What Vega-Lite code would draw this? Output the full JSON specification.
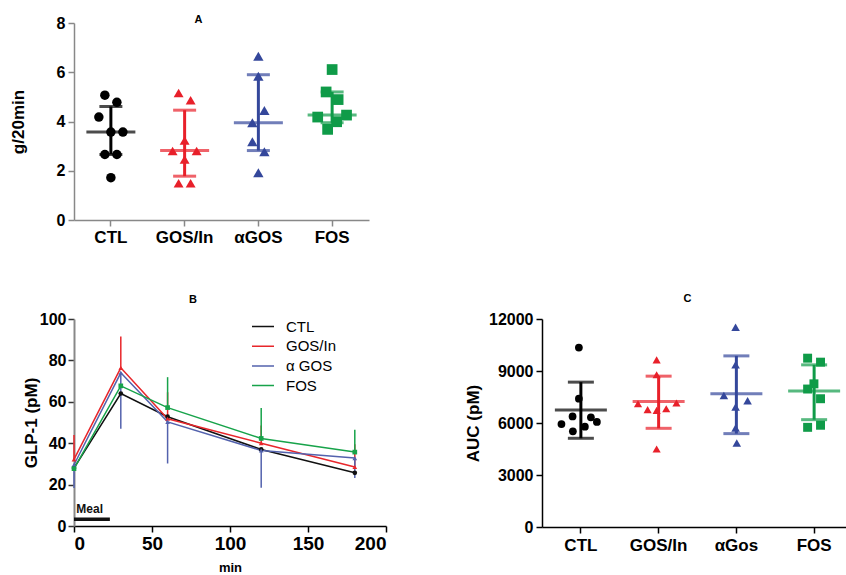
{
  "$schema": "https://vega.github.io/schema/vega-lite/v6.json",
  "padding": {"left": 9, "top": 14, "right": 0, "bottom": 0},
  "background": "white",
  "config": {
    "font": "Liberation Sans",
    "view": {"stroke": null},
    "axis": {"grid": false, "labelFontWeight": "bold", "titleFontWeight": "bold", "labelColor": "#000", "titleColor": "#000", "labelFont": "Liberation Sans", "titleFont": "Liberation Sans"},
    "title": {"font": "Liberation Sans", "fontWeight": "bold", "fontSize": 11, "color": "#000"}
  },
  "datasets": {
    "aPts": [
      {"group": "CTL", "slot": -1, "v": 5.07}, {"group": "CTL", "slot": 1, "v": 4.78}, {"group": "CTL", "slot": -2, "v": 4.18}, {"group": "CTL", "slot": 0, "v": 3.57}, {"group": "CTL", "slot": 2, "v": 3.57}, {"group": "CTL", "slot": -1, "v": 2.66}, {"group": "CTL", "slot": 1, "v": 2.66}, {"group": "CTL", "slot": 0, "v": 1.72},
      {"group": "GOS/In", "slot": -1, "v": 5.16}, {"group": "GOS/In", "slot": 1, "v": 4.86}, {"group": "GOS/In", "slot": 0, "v": 3.23}, {"group": "GOS/In", "slot": -2, "v": 2.8}, {"group": "GOS/In", "slot": 2, "v": 2.8}, {"group": "GOS/In", "slot": 0, "v": 2.46}, {"group": "GOS/In", "slot": -1, "v": 1.49}, {"group": "GOS/In", "slot": 1, "v": 1.49},
      {"group": "αGOS", "slot": 0, "v": 6.65}, {"group": "αGOS", "slot": 0, "v": 5.84}, {"group": "αGOS", "slot": 1, "v": 4.45}, {"group": "αGOS", "slot": -1, "v": 3.95}, {"group": "αGOS", "slot": -1, "v": 3.18}, {"group": "αGOS", "slot": 1, "v": 2.77}, {"group": "αGOS", "slot": 0, "v": 1.92},
      {"group": "FOS", "slot": 0, "v": 6.11}, {"group": "FOS", "slot": -1, "v": 5.2}, {"group": "FOS", "slot": 1, "v": 4.89}, {"group": "FOS", "slot": -2.4, "v": 4.18}, {"group": "FOS", "slot": 2.4, "v": 4.26}, {"group": "FOS", "slot": 0.75, "v": 3.99}, {"group": "FOS", "slot": -0.75, "v": 3.68}
    ],
    "aStats": [
      {"group": "CTL", "mid": 3.57, "lo": 2.66, "hi": 4.61},
      {"group": "GOS/In", "mid": 2.82, "lo": 1.78, "hi": 4.46},
      {"group": "αGOS", "mid": 3.95, "lo": 2.82, "hi": 5.9},
      {"group": "FOS", "mid": 4.26, "lo": 3.95, "hi": 5.2}
    ],
    "bMean": [
      {"series": "CTL", "t": 0, "v": 28}, {"series": "CTL", "t": 30, "v": 64}, {"series": "CTL", "t": 60, "v": 52.8}, {"series": "CTL", "t": 120, "v": 37}, {"series": "CTL", "t": 180, "v": 25.7},
      {"series": "GOS/In", "t": 0, "v": 32.2}, {"series": "GOS/In", "t": 30, "v": 76.4}, {"series": "GOS/In", "t": 60, "v": 51.8}, {"series": "GOS/In", "t": 120, "v": 40}, {"series": "GOS/In", "t": 180, "v": 28.5},
      {"series": "α GOS", "t": 0, "v": 29.6}, {"series": "α GOS", "t": 30, "v": 74}, {"series": "α GOS", "t": 60, "v": 50.3}, {"series": "α GOS", "t": 120, "v": 36.5}, {"series": "α GOS", "t": 180, "v": 32.8},
      {"series": "FOS", "t": 0, "v": 27.7}, {"series": "FOS", "t": 30, "v": 67.7}, {"series": "FOS", "t": 60, "v": 57.2}, {"series": "FOS", "t": 120, "v": 42.3}, {"series": "FOS", "t": 180, "v": 35.7}
    ],
    "bErr": [
      {"series": "GOS/In", "t": 0, "m": 32.2, "e": 44}, {"series": "GOS/In", "t": 30, "m": 76.4, "e": 91.5}, {"series": "GOS/In", "t": 60, "m": 51.8, "e": 64.6}, {"series": "GOS/In", "t": 120, "m": 40, "e": 48.5}, {"series": "GOS/In", "t": 180, "m": 28.5, "e": 39.5},
      {"series": "α GOS", "t": 0, "m": 29.6, "e": 18.3}, {"series": "α GOS", "t": 30, "m": 74, "e": 47}, {"series": "α GOS", "t": 60, "m": 50.3, "e": 30.2}, {"series": "α GOS", "t": 120, "m": 36.5, "e": 18.5}, {"series": "α GOS", "t": 180, "m": 32.8, "e": 23.2},
      {"series": "FOS", "t": 60, "m": 57.2, "e": 71.9}, {"series": "FOS", "t": 120, "m": 42.3, "e": 57}, {"series": "FOS", "t": 180, "m": 35.7, "e": 46.5}
    ],
    "meal": [{"start": 0, "end": 23, "level": 3.3, "label": "Meal", "labelAt": 1.5, "labelLevel": 8}],
    "cPts": [
      {"group": "CTL", "slot": 0, "v": 10350}, {"group": "CTL", "slot": 0, "v": 7400}, {"group": "CTL", "slot": -1.05, "v": 6380}, {"group": "CTL", "slot": 2, "v": 6330}, {"group": "CTL", "slot": -2.9, "v": 5940}, {"group": "CTL", "slot": 3, "v": 6060}, {"group": "CTL", "slot": 1, "v": 5790}, {"group": "CTL", "slot": -1, "v": 5520},
      {"group": "GOS/In", "slot": 0, "v": 9640}, {"group": "GOS/In", "slot": 0, "v": 8780}, {"group": "GOS/In", "slot": -3.1, "v": 7110}, {"group": "GOS/In", "slot": 3.3, "v": 7150}, {"group": "GOS/In", "slot": -1.5, "v": 6770}, {"group": "GOS/In", "slot": 0, "v": 6730}, {"group": "GOS/In", "slot": 1.6, "v": 6820}, {"group": "GOS/In", "slot": 0, "v": 4500},
      {"group": "αGos", "slot": 0.2, "v": 11520}, {"group": "αGos", "slot": 0.2, "v": 9360}, {"group": "αGos", "slot": -1.75, "v": 7590}, {"group": "αGos", "slot": 2.2, "v": 7280}, {"group": "αGos", "slot": 0.2, "v": 6920}, {"group": "αGos", "slot": 0.2, "v": 5710}, {"group": "αGos", "slot": 0.4, "v": 4850},
      {"group": "FOS", "slot": -0.75, "v": 9740}, {"group": "FOS", "slot": 1.4, "v": 9510}, {"group": "FOS", "slot": 0.3, "v": 8260}, {"group": "FOS", "slot": -0.75, "v": 7960}, {"group": "FOS", "slot": 1.4, "v": 7400}, {"group": "FOS", "slot": -0.75, "v": 5750}, {"group": "FOS", "slot": 1.4, "v": 5870}
    ],
    "cStats": [
      {"group": "CTL", "mid": 6748, "lo": 5118, "hi": 8358},
      {"group": "GOS/In", "mid": 7246, "lo": 5693, "hi": 8703},
      {"group": "αGos", "mid": 7687, "lo": 5387, "hi": 9872},
      {"group": "FOS", "mid": 7840, "lo": 6192, "hi": 9355}
    ]
  },
  "bounds": "flush",
  "spacing": 99,
  "resolve": {"scale": {"color": "independent", "shape": "independent", "size": "independent", "x": "independent", "y": "independent"}},
  "vconcat": [
    {
      "width": 295,
      "height": 197,
      "title": {"text": "A", "dx": -23, "dy": 17, "baseline": "alphabetic", "offset": -2},
      "encoding": {
        "x": {"field": "group", "type": "nominal", "scale": {"type": "band", "domain": ["CTL", "GOS/In", "αGOS", "FOS"], "paddingInner": 0, "paddingOuter": 0},
              "axis": {"title": null, "labelAngle": 0, "labelFontSize": 17, "labelPadding": 3, "tickSize": 6, "domainColor": "#888", "tickColor": "#888", "domainWidth": 1.5, "tickWidth": 1.5}},
        "color": {"field": "group", "type": "nominal", "scale": {"domain": ["CTL", "GOS/In", "αGOS", "FOS"], "range": ["#000000", "#e8202a", "#34479b", "#0f9b48"]}, "legend": null}
      },
      "layer": [
        {"data": {"name": "aStats"}, "mark": {"type": "rule", "strokeWidth": 3},
         "encoding": {"y": {"field": "lo", "type": "quantitative", "scale": {"domain": [0, 8], "nice": false},
                            "axis": {"values": [0, 2, 4, 6, 8], "title": "g/20min", "titleFontSize": 17, "titleX": -56, "titleBaseline": "middle", "labelFontSize": 16, "labelPadding": 3, "tickSize": 6, "domainColor": "#888", "tickColor": "#888", "domainWidth": 1.5, "tickWidth": 1.5}},
                      "y2": {"field": "hi"}}},
        {"data": {"name": "aStats"}, "mark": {"type": "tick", "orient": "horizontal", "size": 49, "thickness": 3},
         "encoding": {"y": {"field": "mid", "type": "quantitative"}}},
        {"data": {"name": "aStats"}, "mark": {"type": "tick", "orient": "horizontal", "size": 23, "thickness": 3},
         "encoding": {"y": {"field": "lo", "type": "quantitative"}}},
        {"data": {"name": "aStats"}, "mark": {"type": "tick", "orient": "horizontal", "size": 23, "thickness": 3},
         "encoding": {"y": {"field": "hi", "type": "quantitative"}}},
        {"data": {"name": "aPts"}, "mark": {"type": "point", "filled": true, "opacity": 1},
         "encoding": {
           "xOffset": {"field": "slot", "type": "quantitative", "scale": {"domain": [-4.92, 4.92]}},
           "y": {"field": "v", "type": "quantitative"},
           "shape": {"field": "group", "type": "nominal", "scale": {"domain": ["CTL", "GOS/In", "αGOS", "FOS"], "range": ["circle", "triangle-up", "triangle-up", "square"]}, "legend": null},
           "size": {"field": "group", "type": "ordinal", "scale": {"domain": ["CTL", "GOS/In", "αGOS", "FOS"], "range": [90, 115, 115, 95]}, "legend": null}
         }}
      ]
    },
    {
      "bounds": "flush",
      "spacing": 156,
      "resolve": {"scale": {"color": "independent", "shape": "independent", "size": "independent", "x": "independent", "y": "independent"}},
      "hconcat": [
        {
          "width": 312,
          "height": 207,
          "title": {"text": "B", "dx": -37, "dy": 20.5, "baseline": "alphabetic", "offset": 18},
          "resolve": {"legend": {"color": "independent", "shape": "independent"}},
          "layer": [
            {"data": {"name": "bErr"}, "mark": {"type": "rule", "strokeWidth": 1.5},
             "encoding": {
               "x": {"field": "t", "type": "quantitative", "scale": {"domain": [0, 200], "nice": false},
                     "axis": {"values": [0, 50, 100, 150, 200], "title": "min", "titleFontSize": 13, "titleY": 35, "titleBaseline": "top", "labelFontSize": 19, "labelPadding": 2, "tickSize": 6, "domainColor": "#000", "tickColor": "#000", "domainWidth": 1.5, "tickWidth": 1.5}},
               "y": {"field": "m", "type": "quantitative", "scale": {"domain": [0, 100], "nice": false},
                     "axis": {"values": [0, 20, 40, 60, 80, 100], "title": "GLP-1 (pM)", "titleFontSize": 17, "titleX": -43, "titleBaseline": "middle", "labelFontSize": 16, "labelPadding": 2, "tickSize": 6, "domainColor": "#888", "tickColor": "#333", "domainWidth": 2, "tickWidth": 1.5}},
               "y2": {"field": "e"},
               "color": {"field": "series", "type": "nominal", "scale": {"domain": ["CTL", "GOS/In", "α GOS", "FOS"], "range": ["#111111", "#e8262b", "#5362ad", "#17a34a"]}, "legend": null}
             }},
            {"data": {"name": "bMean"}, "mark": {"type": "line", "strokeWidth": 1.5},
             "encoding": {
               "x": {"field": "t", "type": "quantitative"},
               "y": {"field": "v", "type": "quantitative"},
               "color": {"field": "series", "type": "nominal",
                         "legend": {"title": null, "orient": "none", "legendX": 177, "legendY": 0, "symbolType": "stroke", "symbolSize": 484, "symbolStrokeWidth": 1.5, "clipHeight": 15, "labelFontSize": 15, "labelFont": "Liberation Sans", "labelColor": "#000", "labelOffset": 11, "rowPadding": 3.7}}
             }},
            {"data": {"name": "bMean"}, "mark": {"type": "point", "filled": true, "opacity": 1, "size": 22},
             "encoding": {
               "x": {"field": "t", "type": "quantitative"},
               "y": {"field": "v", "type": "quantitative"},
               "color": {"field": "series", "type": "nominal", "legend": null},
               "shape": {"field": "series", "type": "nominal", "scale": {"domain": ["CTL", "GOS/In", "α GOS", "FOS"], "range": ["circle", "triangle-up", "triangle-up", "square"]}, "legend": null}
             }},
            {"data": {"name": "meal"}, "mark": {"type": "rule", "strokeWidth": 3.5, "color": "#111"},
             "encoding": {"x": {"field": "start", "type": "quantitative"}, "x2": {"field": "end"}, "y": {"field": "level", "type": "quantitative"}}},
            {"data": {"name": "meal"}, "mark": {"type": "text", "align": "left", "baseline": "middle", "fontSize": 12, "fontWeight": "bold", "color": "#111"},
             "encoding": {"x": {"field": "labelAt", "type": "quantitative"}, "y": {"field": "labelLevel", "type": "quantitative"}, "text": {"field": "label"}}}
          ]
        },
        {
          "width": 311,
          "height": 208,
          "title": {"text": "C", "dx": -10, "dy": 18, "baseline": "alphabetic", "offset": 16.5},
          "encoding": {
            "x": {"field": "group", "type": "nominal", "scale": {"type": "band", "domain": ["CTL", "GOS/In", "αGos", "FOS"], "paddingInner": 0, "paddingOuter": 0},
                  "axis": {"title": null, "labelAngle": 0, "labelFontSize": 17, "labelPadding": 4, "tickSize": 6, "domainColor": "#000", "tickColor": "#000", "domainWidth": 1.5, "tickWidth": 1.5}},
            "color": {"field": "group", "type": "nominal", "scale": {"domain": ["CTL", "GOS/In", "αGos", "FOS"], "range": ["#000000", "#e8202a", "#34479b", "#0f9b48"]}, "legend": null}
          },
          "layer": [
            {"data": {"name": "cStats"}, "mark": {"type": "rule", "strokeWidth": 3},
             "encoding": {"y": {"field": "lo", "type": "quantitative", "scale": {"domain": [0, 12000], "nice": false},
                                "axis": {"values": [0, 3000, 6000, 9000, 12000], "format": "d", "title": "AUC (pM)", "titleFontSize": 17, "titleX": -69, "titleBaseline": "middle", "labelFontSize": 16, "labelPadding": 3, "tickSize": 6, "domainColor": "#000", "tickColor": "#000", "domainWidth": 1.5, "tickWidth": 1.5}},
                          "y2": {"field": "hi"}}},
            {"data": {"name": "cStats"}, "mark": {"type": "tick", "orient": "horizontal", "size": 52, "thickness": 3},
             "encoding": {"y": {"field": "mid", "type": "quantitative"}}},
            {"data": {"name": "cStats"}, "mark": {"type": "tick", "orient": "horizontal", "size": 26, "thickness": 3},
             "encoding": {"y": {"field": "lo", "type": "quantitative"}}},
            {"data": {"name": "cStats"}, "mark": {"type": "tick", "orient": "horizontal", "size": 26, "thickness": 3},
             "encoding": {"y": {"field": "hi", "type": "quantitative"}}},
            {"data": {"name": "cPts"}, "mark": {"type": "point", "filled": true, "opacity": 1},
             "encoding": {
               "xOffset": {"field": "slot", "type": "quantitative", "scale": {"domain": [-6.14, 6.14]}},
               "y": {"field": "v", "type": "quantitative"},
               "shape": {"field": "group", "type": "nominal", "scale": {"domain": ["CTL", "GOS/In", "αGos", "FOS"], "range": ["circle", "triangle-up", "triangle-up", "square"]}, "legend": null},
               "size": {"field": "group", "type": "ordinal", "scale": {"domain": ["CTL", "GOS/In", "αGos", "FOS"], "range": [60, 80, 80, 75]}, "legend": null}
             }}
          ]
        }
      ]
    }
  ]
}
